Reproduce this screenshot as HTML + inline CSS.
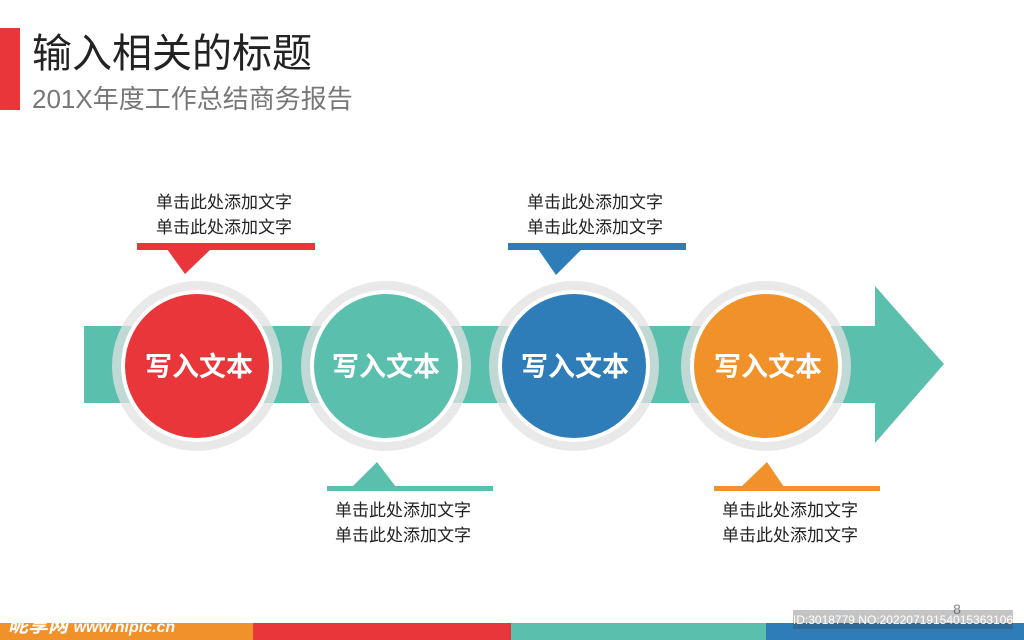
<!DOCTYPE html>
<html><head><meta charset="utf-8"><style>
html,body{margin:0;padding:0;background:#fff;}
svg{display:block}
</style></head><body>
<svg width="1024" height="640" viewBox="0 0 1024 640" xmlns="http://www.w3.org/2000/svg" font-family="'Liberation Sans','Noto Sans CJK SC',sans-serif">
<rect x="0" y="28" width="20" height="82" fill="#e8363a"/>
<text x="32" y="67" font-size="40" fill="#222">输入相关的标题</text>
<text x="32" y="108" font-size="26" fill="#777">201X年度工作总结商务报告</text>

<rect x="84" y="326" width="795" height="77" fill="#5bbfad"/>
<polygon points="875,286 944,364 875,443" fill="#5bbfad"/>

<g>
<circle cx="197" cy="366" r="85" fill="rgba(225,225,225,0.75)"/>
<circle cx="197" cy="366" r="76" fill="#fff"/>
<circle cx="197" cy="366" r="72" fill="#e8363a"/>
<circle cx="386" cy="366" r="85" fill="rgba(225,225,225,0.75)"/>
<circle cx="386" cy="366" r="76" fill="#fff"/>
<circle cx="386" cy="366" r="72" fill="#5bbfad"/>
<circle cx="574" cy="366" r="85" fill="rgba(225,225,225,0.75)"/>
<circle cx="574" cy="366" r="76" fill="#fff"/>
<circle cx="574" cy="366" r="72" fill="#2e7db8"/>
<circle cx="766" cy="366" r="85" fill="rgba(225,225,225,0.75)"/>
<circle cx="766" cy="366" r="76" fill="#fff"/>
<circle cx="766" cy="366" r="72" fill="#f0912a"/>
</g>
<g font-size="27" font-weight="bold" fill="#fff" text-anchor="middle">
<text x="199" y="376">写入文本</text>
<text x="386" y="376">写入文本</text>
<text x="575" y="376">写入文本</text>
<text x="768" y="376">写入文本</text>
</g>

<rect x="137" y="243" width="178" height="7" fill="#e8363a"/>
<polygon points="167,249 211,249 185,274" fill="#e8363a"/>
<rect x="508" y="243" width="178" height="7" fill="#2e7db8"/>
<polygon points="538,249 582,249 556,275" fill="#2e7db8"/>
<rect x="327" y="486" width="166" height="5" fill="#5bbfad"/>
<polygon points="352,487 396,487 377,462" fill="#5bbfad"/>
<rect x="714" y="486" width="166" height="5" fill="#f0912a"/>
<polygon points="741,487 784,487 767,462" fill="#f0912a"/>

<g font-size="17" fill="#222" text-anchor="middle">
<text x="224" y="208">单击此处添加文字</text>
<text x="224" y="233">单击此处添加文字</text>
<text x="595" y="208">单击此处添加文字</text>
<text x="595" y="233">单击此处添加文字</text>
<text x="403" y="516">单击此处添加文字</text>
<text x="403" y="541">单击此处添加文字</text>
<text x="790" y="516">单击此处添加文字</text>
<text x="790" y="541">单击此处添加文字</text>
</g>

<rect x="0" y="623" width="253" height="17" fill="#f0912a"/>
<rect x="253" y="623" width="258" height="17" fill="#e8363a"/>
<rect x="511" y="623" width="255" height="17" fill="#5bbfad"/>
<rect x="766" y="623" width="258" height="17" fill="#2e7db8"/>
<text x="957" y="614" font-size="14" fill="#888" text-anchor="middle">8</text>
<rect x="793" y="610" width="220" height="19" fill="rgba(60,60,60,0.3)"/>
<text x="903" y="624" font-size="12" fill="#fff" text-anchor="middle">ID:3018779 NO:20220719154015363106</text>
<text x="8" y="632" font-size="20" font-weight="bold" font-style="italic" fill="#fff">昵享网 <tspan font-size="16">www.nipic.cn</tspan></text>
</svg>
</body></html>
